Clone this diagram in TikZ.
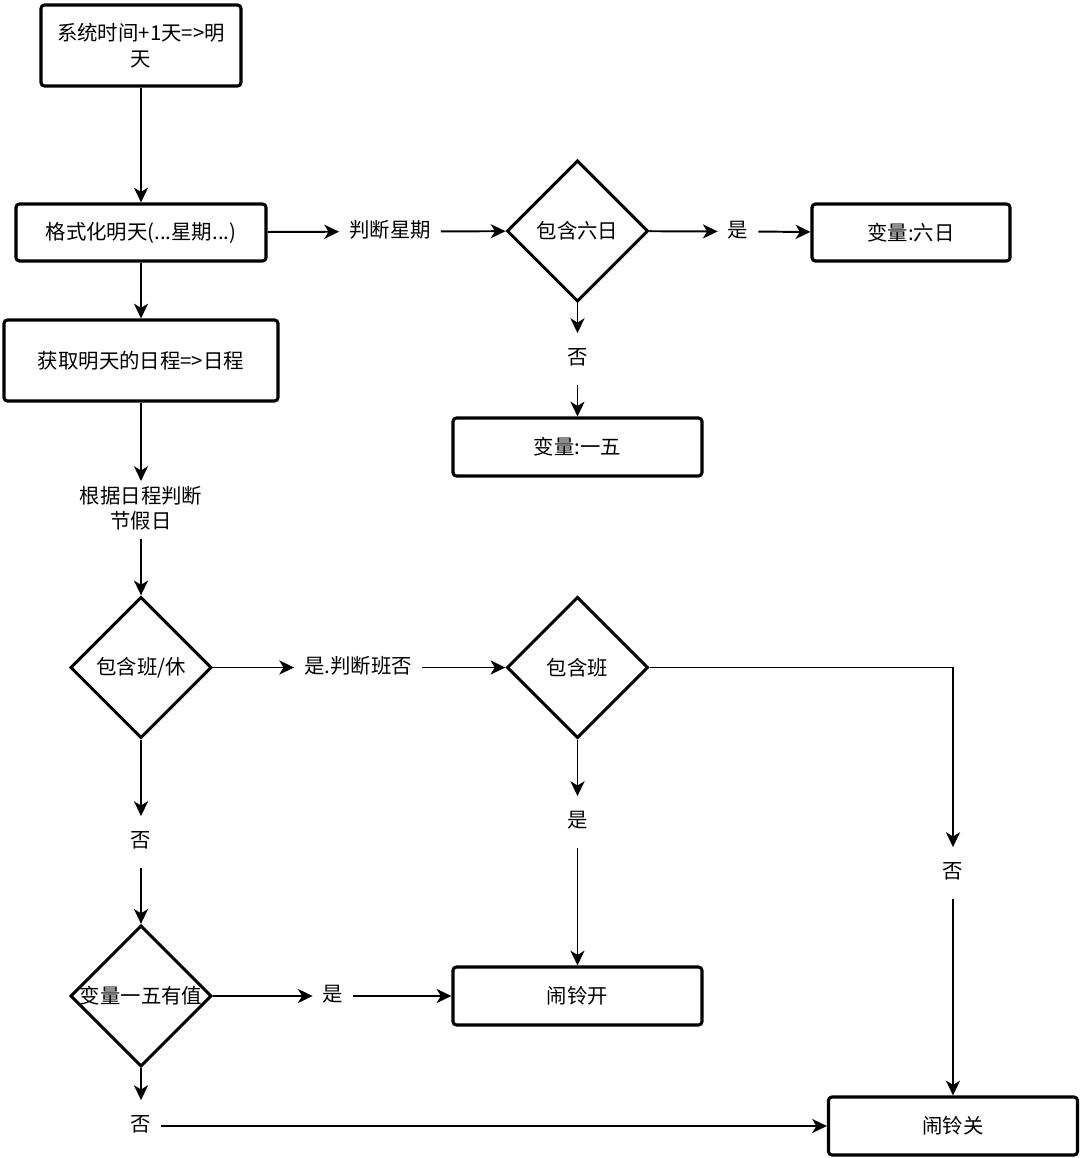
\documentclass[tikz,border=0pt]{standalone}
\usepackage{fontspec}
\setmainfont{Noto Sans CJK SC}
\usetikzlibrary{arrows.meta, positioning, shapes.geometric}

\begin{document}
\begin{tikzpicture}[x=0.025cm, y=-0.025cm,
    % Styles for the flowchart
    box/.style={draw, line width=2.2pt, rounded corners=2.5pt, font=\fontsize{14.5}{18.4}\selectfont, align=center, inner sep=0pt},
    decision/.style={diamond, draw, line width=2.2pt, minimum width=3.53cm, minimum height=3.53cm, inner sep=0pt, label={[font=\fontsize{14.5}{18.4}\selectfont]center:#1}},
    lbl/.style={font=\fontsize{14.5}{18.4}\selectfont, align=center, text height=10.5pt, text depth=2pt, inner xsep=7pt, inner ysep=12pt},
    flow/.style={-{Stealth[length=10.5pt, width=10pt, inset=3pt]}, line width=1.4pt}]

\useasboundingbox (0,0) rectangle (1080,1158);

% Left column
\node[box, minimum width=5cm, minimum height=2.025cm] (tmr) at (141,45.5) {系统时间+1天=>明\\天};
\node[box, minimum width=6.25cm, minimum height=1.425cm] (fmt) at (141,232.5) {格式化明天(...星期...)};
\node[box, minimum width=6.85cm, minimum height=2.025cm] (sched) at (141,360.5) {获取明天的日程=>日程};
\node[lbl, text height=28.9pt, inner ysep=5pt] (judge) at (141,510) {根据日程判断\\节假日};
\node[decision=包含班/休] (hol) at (141,667.5) {};
\node[lbl] (no2) at (141,842) {否};
\node[decision=变量一五有值] (wkd) at (141,996) {};
\node[lbl] (no4) at (141,1126) {否};

% Week branch
\node[lbl] (week) at (390,231.5) {判断星期};
\node[decision=包含六日] (sat) at (577.5,231) {};
\node[lbl] (yes1) at (738,231.5) {是};
\node[box, minimum width=4.95cm, minimum height=1.425cm] (vsat) at (911,232.5) {变量:六日};
\node[lbl] (no1) at (577.5,359) {否};
\node[box, minimum width=6.225cm, minimum height=1.45cm] (vmon) at (577.5,447) {变量:一五};

% Work day branch
\node[lbl] (chk) at (358,667.5) {是.判断班否};
\node[decision=包含班] (work) at (577.5,667.5) {};
\node[lbl] (yes3) at (577.5,822) {是};
\node[lbl] (no3) at (953,873) {否};
\node[lbl] (yes4) at (333,996) {是};
\node[box, minimum width=6.225cm, minimum height=1.45cm] (on) at (577.5,996) {闹铃开};
\node[box, minimum width=6.225cm, minimum height=1.45cm] (off) at (953,1126) {闹铃关};

% Connectors
\draw[flow] (tmr) -- (fmt);
\draw[flow] (fmt) -- (sched);
\draw[flow] (sched) -- (judge);
\draw[flow] (judge) -- (hol);
\draw[flow] (fmt) -- (week);
\draw[flow] (week) -- (sat);
\draw[flow] (sat) -- (yes1);
\draw[flow] (yes1) -- (vsat);
\draw[flow] (sat) -- (no1);
\draw[flow] (no1) -- (vmon);
\draw[flow] (hol) -- (chk);
\draw[flow] (chk) -- (work);
\draw[flow] (work) -- (yes3);
\draw[flow] (yes3) -- (on);
\draw[flow] (work) -| (no3);
\draw[flow] (no3) -- (off);
\draw[flow] (hol) -- (no2);
\draw[flow] (no2) -- (wkd);
\draw[flow] (wkd) -- (yes4);
\draw[flow] (yes4) -- (on);
\draw[flow] (wkd) -- (no4);
\draw[flow] (no4) -- (off);

\end{tikzpicture}
\end{document}
